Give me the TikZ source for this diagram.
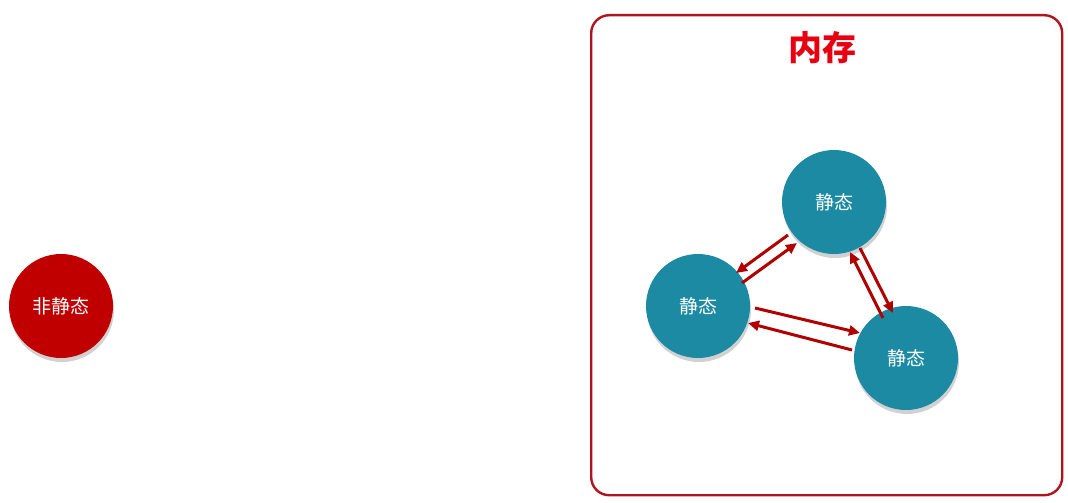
\documentclass[tikz,border=0pt]{standalone}
\usepackage{fontspec}
\newfontfamily\cjk{Noto Sans CJK SC}
\usetikzlibrary{arrows.meta,shadows,calc}
\definecolor{boxred}{HTML}{B0141C}
\definecolor{titlered}{HTML}{E60012}
\definecolor{circred}{HTML}{C00000}
\definecolor{teal}{HTML}{1B8AA2}
\definecolor{arrred}{HTML}{B00000}
\tikzset{
  ball/.style={circle, minimum size=104pt, inner sep=0pt, text=white,
    font=\cjk\fontsize{19}{22}\selectfont,
    drop shadow={shadow xshift=1pt, shadow yshift=-4pt, fill=black!18, opacity=1}},
  redball/.style={ball, fill=circred},
  tealball/.style={ball, fill=teal},
  arr/.style={draw=arrred, line width=3pt, -{Triangle[length=11pt,width=10pt]}},
  membox/.style={draw=boxred, line width=2.4pt, rounded corners=18pt}
}
\begin{document}
\begin{tikzpicture}[x=1pt,y=-1pt]
\useasboundingbox (0,0) rectangle (1068,503);
\node[membox, minimum width=471pt, minimum height=480pt, anchor=north west, inner sep=0pt] (box) at (590,14) {};
\node[text=titlered, font=\cjk\bfseries\fontsize{34}{38}\selectfont] (title) at (822,48) {内存};
\node[redball] (n) at (61,306) {非静态};
\node[tealball] (t) at (834,202) {静态};
\node[tealball] (l) at (698,306) {静态};
\node[tealball] (r) at (906,358) {静态};
\draw[arr] ($(t)+(-46,33)$) -- ($(l)+(38,-33)$);
\draw[arr] ($(l)+(44,-23)$) -- ($(t)+(-37,41)$);
\draw[arr] ($(t)+(26,46)$) -- ($(r)+(-13,-45)$);
\draw[arr] ($(r)+(-23,-40)$) -- ($(t)+(16,50)$);
\draw[arr] ($(l)+(57,2)$) -- ($(r)+(-46,-25)$);
\draw[arr] ($(r)+(-54,-8)$) -- ($(l)+(50,17)$);
\end{tikzpicture}
\end{document}
